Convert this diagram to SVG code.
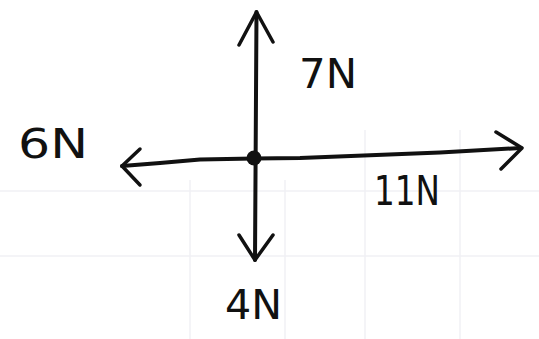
<svg xmlns="http://www.w3.org/2000/svg" width="539" height="339" viewBox="0 0 539 339">
<style>
.bg{stroke:#f1f1f5;stroke-width:1.5;fill:none}
.force{stroke:#111;stroke-width:4;fill:none;stroke-linecap:round;stroke-linejoin:round}
.head{stroke:#111;stroke-width:3.5;fill:none;stroke-linecap:round;stroke-linejoin:round}
.lbl{font-family:"DejaVu Sans","Liberation Sans",sans-serif;font-size:40px;fill:#111}
</style>
<rect width="539" height="339" fill="#ffffff"/>
<g id="background">
<path class="bg" d="M0 191H539M0 256H539M190 180V339M285 180V339M365 130V339M460 130V339"/>
</g>
<g id="connectors">
<path class="force" d="M256.5 12 L255 260"/>
<path class="force" d="M122 166 L160 163 L200 159.5 L254 158.5 L300 158 L440 152.5 L521 148"/>
</g>
<g id="arrow-up">
<path class="head" d="M239 45 L256.5 12 L273 42"/>
</g>
<g id="arrow-down">
<path class="head" d="M239 235 L255 260 L273 235"/>
</g>
<g id="arrow-left">
<path class="head" d="M140 149 L122 166 L140 185"/>
</g>
<g id="arrow-right">
<path class="head" d="M496 132 L522 148 L501 169"/>
</g>
<g id="point">
<circle cx="254" cy="158" r="7.5" fill="#111"/>
</g>
<g id="label-7N"><text class="lbl" x="299" y="88" textLength="58" lengthAdjust="spacingAndGlyphs">7N</text></g>
<g id="label-6N"><text class="lbl" x="18" y="158" textLength="70" lengthAdjust="spacingAndGlyphs">6N</text></g>
<g id="label-11N"><text class="lbl" x="374" y="205" textLength="66" lengthAdjust="spacingAndGlyphs">11N</text></g>
<g id="label-4N"><text class="lbl" x="225" y="319" textLength="57" lengthAdjust="spacingAndGlyphs">4N</text></g>
</svg>
